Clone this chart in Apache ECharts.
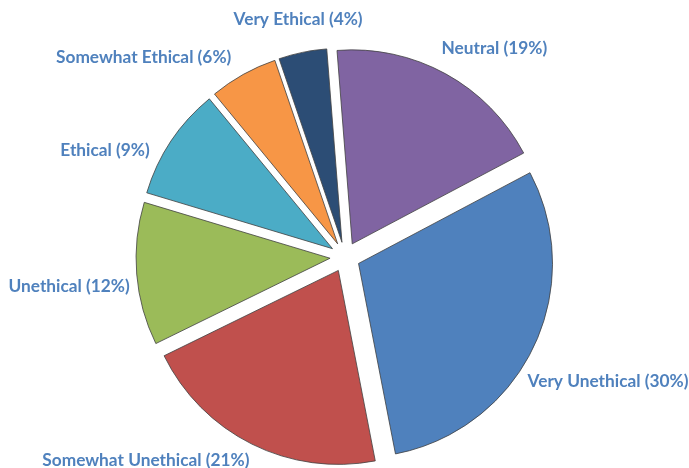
<!DOCTYPE html>
<html>
<head>
<meta charset="utf-8">
<script src="https://cdn.jsdelivr.net/npm/echarts@6/dist/echarts.min.js"></script>
<style>
html,body{margin:0;padding:0;background:#fff;}
#chart{width:689px;height:468px;}
</style>
</head>
<body>
<div id="chart"></div>
<script>
// Categories in drawing order (clockwise from the top)
var categories = ['Neutral', 'Very Unethical', 'Somewhat Unethical', 'Unethical', 'Ethical', 'Somewhat Ethical', 'Very Ethical'];
// Share of responses (%)
var shares = [18.5, 29.7, 20.8, 11.9, 9.4, 5.7, 4.0];
// Percent shown in the labels
var labelPercents = [19, 30, 21, 12, 9, 6, 4];

var colors = ['#8064A2', '#4F81BD', '#C0504D', '#9BBB59', '#4BACC6', '#F79646', '#2C4D75'];
// small label nudges (Excel-like outside-end placement)
var labelNudge = [[-14, -17], [-20, 30], [7, 7], [8, 12], [-8, 15], [-2, -8], [67, -23]];

var data = categories.map(function (c, i) {
  return {
    name: c,
    value: shares[i],
    selected: true,
    itemStyle: { color: colors[i] }
  };
});

var chart = echarts.init(document.getElementById('chart'), null, { renderer: 'canvas' });
chart.setOption({
  animation: false,
  backgroundColor: '#ffffff',
  series: [{
    type: 'pie',
    center: [345, 257],
    radius: [0, 194],
    startAngle: 94.5,
    clockwise: true,
    selectedMode: 'multiple',
    selectedOffset: 15,
    avoidLabelOverlap: false,
    itemStyle: { borderColor: '#404040', borderWidth: 0.8 },
    select: { itemStyle: { borderColor: '#404040', borderWidth: 0.8 } },
    emphasis: { disabled: true, scale: false },
    label: {
      show: true,
      position: 'outside',
      fontFamily: 'Lato',
      fontWeight: 'bold',
      fontSize: 17.3,
      color: '#4F81BD',
      formatter: function (p) { return p.name + ' (' + labelPercents[p.dataIndex] + '%)'; }
    },
    labelLine: { show: false, length: 10, length2: 0 },
    labelLayout: function (p) {
      var n = labelNudge[p.dataIndex];
      return { dx: n[0], dy: n[1] };
    },
    data: data
  }]
});
</script>
</body>
</html>
